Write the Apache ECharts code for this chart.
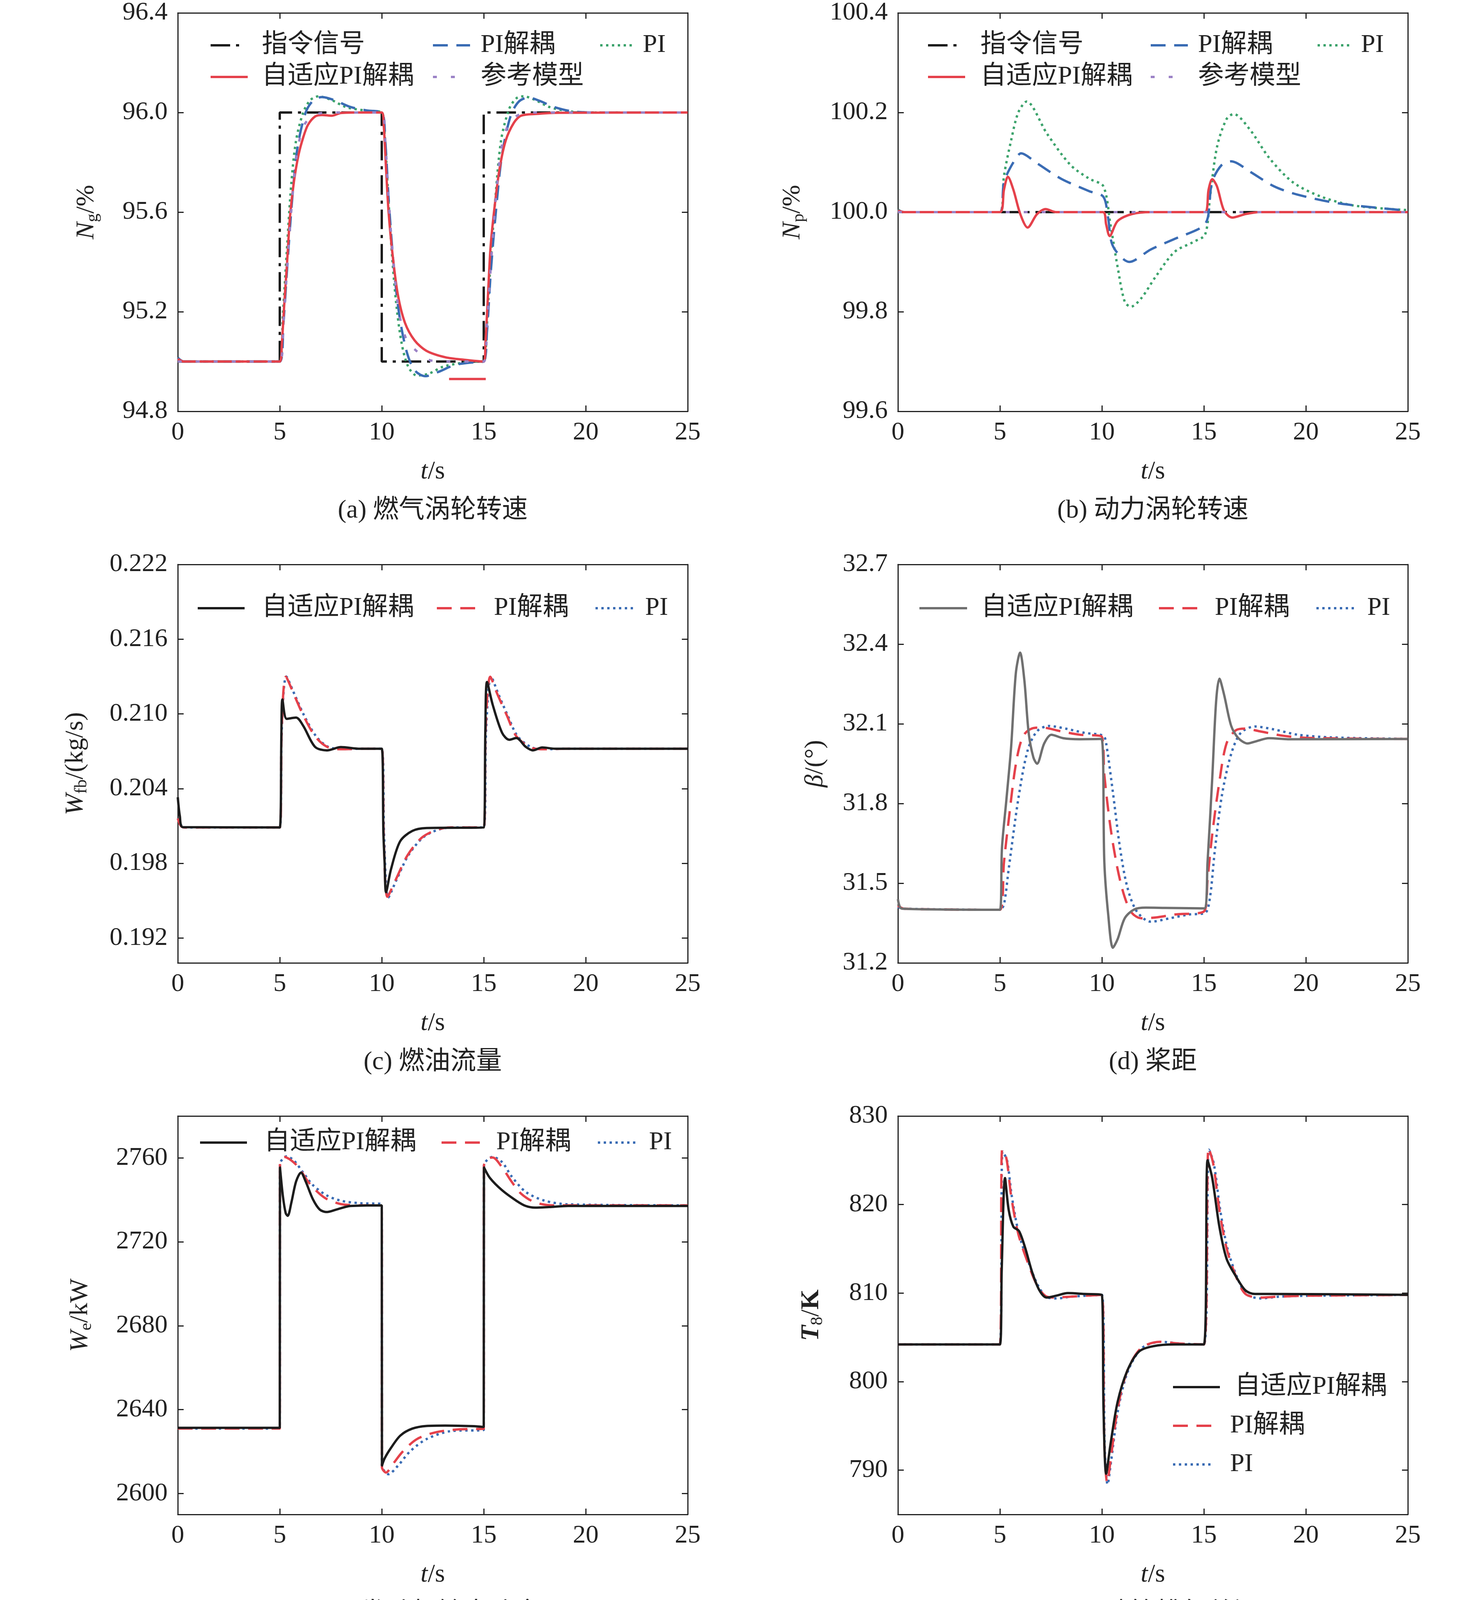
<!DOCTYPE html>
<html><head><meta charset="utf-8">
<script src="https://cdn.jsdelivr.net/npm/echarts@6/dist/echarts.min.js"></script>
<style>html,body{margin:0;padding:0;background:#fff}#c{width:3780px;height:5579px}</style>
</head><body><div id="c"></div>
<script>
// ---------- (a) gas turbine speed ----------
const a_cmd = [[0,95],[5,95],[5,96],[10,96],[10,95],[15,95],[15,96],[25,96]];
const a_adapt = [[0,95.01],[0.3,95.0],[5,95],[5.1,95.07],[5.22,95.23],[5.36,95.4],[5.5,95.58],[5.69,95.72],[5.92,95.83],[6.15,95.9],[6.38,95.95],[6.73,95.984],[7.08,95.99],[7.54,95.987],[8.0,95.998],[8.94,96.0],[10.0,96.0],[10.1,95.944],[10.21,95.776],[10.33,95.606],[10.52,95.437],[10.79,95.268],[11.14,95.155],[11.61,95.085],[12.19,95.043],[13.12,95.017],[14.04,95.007],[15.0,95.0],[15.09,95.085],[15.2,95.254],[15.34,95.465],[15.55,95.634],[15.78,95.776],[16.08,95.888],[16.48,95.959],[16.83,95.987],[17.53,95.994],[18.69,95.999],[25,96.0]];
const a_pid = [[0,95.015],[0.3,95.0],[5,95],[5.18,95.155],[5.39,95.409],[5.62,95.663],[5.87,95.86],[6.27,96.0],[6.66,96.05],[7.08,96.062],[7.66,96.05],[8.47,96.022],[9.29,96.008],[10.0,96.0],[10.17,95.888],[10.33,95.663],[10.56,95.409],[10.84,95.198],[11.21,95.043],[11.61,94.965],[12.14,94.941],[12.77,94.958],[13.58,94.986],[14.51,94.997],[15.0,95.0],[15.16,95.12],[15.34,95.353],[15.6,95.606],[15.9,95.832],[16.32,95.987],[16.71,96.043],[17.18,96.06],[17.76,96.046],[18.45,96.022],[19.38,96.004],[20.54,96.0],[25,96.0]];
const a_pi = [[0,95.015],[0.3,95.0],[5,95],[5.15,95.183],[5.34,95.437],[5.57,95.719],[5.8,95.888],[6.15,96.0],[6.5,96.05],[6.9,96.065],[7.54,96.05],[8.24,96.022],[9.17,96.008],[10.0,96.0],[10.14,95.916],[10.28,95.719],[10.47,95.465],[10.7,95.24],[10.98,95.071],[11.3,94.979],[11.72,94.944],[12.3,94.951],[13.0,94.979],[13.81,94.993],[14.5,95.0],[15.0,95.0],[15.13,95.113],[15.32,95.381],[15.55,95.634],[15.85,95.888],[16.25,96.015],[16.6,96.057],[16.95,96.065],[17.53,96.05],[18.22,96.022],[19.15,96.005],[20.3,96.0],[25,96.0]];
const a_ref = [[0,95.0],[5,95],[5.18,95.15],[5.39,95.41],[5.62,95.66],[5.87,95.85],[6.2,95.95],[6.7,95.99],[7.5,96.0],[10.0,96.0],[10.17,95.89],[10.33,95.66],[10.56,95.41],[10.84,95.2],[11.2,95.09],[11.6,95.05],[12.3,95.007],[13,95.0],[15,95.0],[15.16,95.15],[15.37,95.41],[15.6,95.66],[15.85,95.85],[16.2,95.95],[16.7,95.99],[17.5,96.0],[25,96.0]];
const a_extra = [[13.3,94.93],[15.1,94.93]];
// ---------- (b) power turbine speed ----------
const b_cmd = [[0,100],[25,100]];
const b_ref = [[0,100],[25,100]];
const b_adapt = [[0,100.003],[0.3,100.0],[5.0,100.0],[5.2,100.045],[5.39,100.071],[5.66,100.045],[6.0,99.996],[6.36,99.969],[6.82,99.996],[7.24,100.006],[7.75,100.0],[10.05,100.0],[10.21,99.975],[10.38,99.952],[10.77,99.982],[11.47,99.996],[12.4,100.0],[15.05,100.0],[15.23,100.045],[15.41,100.066],[15.64,100.052],[15.99,100.003],[16.39,99.989],[17.04,99.996],[17.73,100.0],[25,100.0]];
const b_pid = [[0,100.004],[0.3,100.0],[5.0,100.0],[5.2,100.06],[5.66,100.1],[6.04,100.118],[6.82,100.098],[8.0,100.067],[9.38,100.042],[10.07,100.031],[10.3,99.99],[10.54,99.932],[11.35,99.90],[12.4,99.925],[13.56,99.946],[14.95,99.971],[15.2,99.99],[15.4,100.06],[15.88,100.095],[16.34,100.102],[17.27,100.081],[18.43,100.052],[19.6,100.035],[21.7,100.017],[25,100.003]];
const b_pi = [[0,100.005],[0.3,100.0],[5.0,100.0],[5.2,100.073],[5.55,100.144],[5.9,100.2],[6.31,100.222],[7.3,100.158],[8.45,100.095],[9.38,100.067],[10.07,100.052],[10.42,99.975],[10.77,99.89],[11.12,99.82],[11.42,99.81],[11.93,99.827],[12.63,99.87],[13.56,99.92],[14.48,99.94],[15.06,99.955],[15.3,100.03],[15.64,100.13],[16.1,100.186],[16.46,100.197],[17.27,100.165],[18.2,100.109],[19.36,100.06],[20.75,100.031],[22.38,100.013],[25,100.004]];
// ---------- (c) fuel flow ----------
const c_adapt = [[0,0.2033],[0.1,0.2018],[0.25,0.2009],[5.0,0.20088],[5.08,0.2085],[5.13,0.21115],[5.34,0.2096],[5.8,0.2097],[6.15,0.20904],[6.73,0.20735],[7.31,0.20707],[8.0,0.20733],[8.94,0.2072],[10.0,0.2072],[10.08,0.2005],[10.14,0.19807],[10.21,0.19568],[10.45,0.1975],[10.9,0.19976],[11.5,0.2006],[12.2,0.20083],[15.0,0.20088],[15.08,0.2088],[15.16,0.21256],[15.44,0.21073],[15.9,0.20848],[16.25,0.20792],[16.6,0.20806],[17.06,0.20735],[17.41,0.20707],[17.87,0.2073],[18.5,0.2072],[25,0.2072]];
const c_pid = [[0,0.2016],[0.15,0.2010],[0.3,0.20088],[5.0,0.20088],[5.1,0.2090],[5.3,0.21298],[5.69,0.21158],[6.15,0.20989],[6.73,0.2082],[7.31,0.20736],[8.0,0.20716],[9,0.2072],[10.0,0.2072],[10.1,0.2000],[10.28,0.19531],[10.68,0.19666],[11.26,0.19863],[11.95,0.20004],[12.65,0.20066],[13.35,0.20088],[15.0,0.20088],[15.1,0.2090],[15.32,0.21298],[15.67,0.21158],[16.13,0.20989],[16.6,0.2082],[17.3,0.2073],[18.0,0.20716],[19,0.2072],[25,0.2072]];
const c_pi = [[0,0.2016],[0.15,0.2011],[0.3,0.20088],[5.0,0.20088],[5.1,0.2088],[5.32,0.2130],[5.72,0.21158],[6.2,0.20985],[6.78,0.2082],[7.36,0.20736],[8.05,0.20716],[9,0.2072],[10.0,0.2072],[10.12,0.2000],[10.32,0.19525],[10.72,0.19666],[11.3,0.19863],[12.0,0.20004],[12.7,0.20066],[13.4,0.20088],[15.0,0.20088],[15.12,0.2088],[15.36,0.2130],[15.72,0.21158],[16.18,0.20985],[16.66,0.2082],[17.36,0.2073],[18.05,0.20716],[19,0.2072],[25,0.2072]];
// ---------- (d) propeller pitch ----------
const d_adapt = [[0,31.44],[0.2,31.404],[5.0,31.40],[5.1,31.632],[5.32,31.816],[5.55,32.013],[5.78,32.29],[5.99,32.368],[6.2,32.263],[6.41,32.066],[6.64,31.974],[6.82,31.95],[7.17,32.026],[7.52,32.059],[8.1,32.046],[8.91,32.042],[9.98,32.043],[10.12,31.579],[10.31,31.382],[10.54,31.257],[10.77,31.289],[11.12,31.368],[11.58,31.401],[12.16,31.408],[13.09,31.407],[15.02,31.405],[15.18,31.579],[15.41,31.895],[15.6,32.184],[15.76,32.27],[15.99,32.21],[16.34,32.092],[16.69,32.046],[17.15,32.026],[17.5,32.033],[18.2,32.046],[19.13,32.042],[25,32.043]];
const d_pid = [[0,31.415],[0.3,31.404],[5.0,31.40],[5.2,31.579],[5.43,31.737],[5.78,31.947],[6.13,32.053],[6.59,32.083],[7.06,32.086],[7.99,32.072],[8.91,32.059],[9.98,32.053],[10.12,31.908],[10.42,31.711],[10.77,31.553],[11.12,31.447],[11.47,31.388],[11.93,31.368],[12.63,31.371],[13.56,31.382],[15.02,31.395],[15.18,31.513],[15.41,31.684],[15.76,31.882],[16.11,32.026],[16.57,32.076],[17.04,32.082],[17.73,32.072],[18.9,32.055],[20.06,32.047],[25,32.043]];
const d_pi = [[0,31.41],[0.3,31.404],[5.0,31.40],[5.2,31.421],[5.43,31.553],[5.9,31.816],[6.36,32.0],[6.82,32.072],[7.4,32.092],[8.22,32.082],[9.15,32.066],[10.07,32.055],[10.21,32.026],[10.54,31.842],[10.89,31.632],[11.24,31.487],[11.7,31.395],[12.4,31.355],[13.33,31.368],[14.26,31.382],[15.06,31.388],[15.3,31.447],[15.53,31.618],[15.88,31.829],[16.34,31.987],[16.81,32.066],[17.5,32.09],[18.43,32.079],[19.6,32.059],[21.22,32.049],[25,32.043]];
// ---------- (e) engine output power ----------
const e_adapt = [[0,2631.3],[5.0,2631.3],[5.01,2755.5],[5.15,2742],[5.29,2733.7],[5.39,2732.4],[5.57,2738.8],[5.8,2748.8],[6.04,2753],[6.27,2748.8],[6.62,2740.4],[6.96,2735.4],[7.31,2734.2],[7.78,2735.4],[8.47,2737.1],[10.0,2737.4],[10.01,2613.3],[10.14,2616.7],[10.45,2621.7],[10.91,2627.6],[11.49,2630.9],[12.19,2632.2],[13.12,2632.4],[14.51,2632.1],[15.0,2631.7],[15.01,2755.5],[15.3,2750.5],[15.9,2744.6],[16.6,2739.6],[17.06,2737.1],[17.52,2736.3],[18.2,2736.6],[19.13,2737.1],[25,2737.1]];
const e_pid = [[0,2631],[5.0,2631],[5.01,2757],[5.22,2760.5],[5.57,2758.8],[5.92,2755.5],[6.38,2748.8],[6.85,2743.8],[7.31,2740.4],[8.0,2738],[8.94,2737.4],[10.0,2737.4],[10.01,2612.5],[10.21,2610],[10.56,2614.2],[11.03,2620],[11.72,2625.9],[12.65,2629.2],[13.81,2630.6],[15.0,2630.9],[15.01,2756.3],[15.2,2759.7],[15.44,2760.2],[15.9,2755.5],[16.36,2748.8],[16.83,2743],[17.52,2738.8],[18.45,2737.4],[25,2737.4]];
const e_pi = [[0,2631],[5.0,2631],[5.01,2757],[5.34,2760.8],[5.69,2758.8],[6.15,2753],[6.62,2747.1],[7.31,2742.1],[8.0,2739.6],[8.94,2738.4],[10.0,2738],[10.01,2613.3],[10.33,2609.2],[10.8,2613.3],[11.38,2620],[12.19,2625.9],[13.35,2629.7],[15.0,2630.4],[15.01,2756.3],[15.44,2760.5],[15.9,2758],[16.36,2751.3],[17.06,2743.8],[17.99,2739.6],[19.13,2737.9],[25,2737.4]];
// ---------- (f) nozzle exhaust temperature ----------
const f_adapt = [[0,804.2],[5.0,804.2],[5.09,812.7],[5.25,823.0],[5.43,819.4],[5.66,817.5],[5.94,817.0],[6.24,815.1],[6.59,812.3],[6.94,810.3],[7.29,809.5],[7.75,809.7],[8.33,810.0],[9.15,809.9],[10.0,809.8],[10.08,796.9],[10.21,789.6],[10.42,792.9],[10.77,797.7],[11.24,801.2],[11.82,803.4],[12.51,804.0],[13.56,804.2],[15.0,804.2],[15.18,825.0],[15.41,823.0],[15.76,817.5],[16.11,813.9],[16.57,811.9],[17.04,810.3],[17.5,809.9],[18.2,809.9],[25,809.8]];
const f_pid = [[0,804.2],[5.0,804.2],[5.11,826.2],[5.32,825.2],[5.55,821.0],[5.9,816.7],[6.36,813.5],[6.82,810.9],[7.29,809.6],[7.75,809.5],[8.45,809.6],[10.0,809.8],[10.12,792.9],[10.26,788.6],[10.42,791.0],[10.77,796.9],[11.24,801.2],[11.93,803.8],[12.86,804.5],[13.79,804.3],[15.0,804.2],[15.23,826.4],[15.46,824.6],[15.76,819.4],[16.11,815.1],[16.57,811.9],[17.04,809.9],[17.73,809.5],[18.66,809.6],[20.06,809.7],[25,809.8]];
const f_pi = [[0,804.2],[5.0,804.2],[5.13,826.0],[5.35,825.0],[5.58,821.0],[5.93,816.7],[6.4,813.5],[6.86,810.9],[7.33,809.5],[7.8,809.4],[8.5,809.6],[10.0,809.8],[10.14,792.5],[10.28,788.4],[10.45,791.0],[10.8,796.9],[11.28,801.2],[11.97,803.8],[12.9,804.5],[13.83,804.3],[15.0,804.2],[15.25,826.2],[15.49,824.6],[15.8,819.4],[16.15,815.1],[16.61,811.9],[17.08,809.9],[17.8,809.4],[18.7,809.6],[20.1,809.7],[25,809.8]];
// ---------- (g) adaptive parameters, matrix 1 ----------
const g11 = [[0,0.008],[5.2,0.008],[5.7,0.004],[6.15,0.002],[7.5,0.003],[15.2,0.005],[16.6,0.002],[25,0.002]];
const g12 = [[0,0],[5.0,0],[5.18,-0.019],[5.34,-0.102],[5.5,-0.247],[5.69,-0.434],[5.87,-0.549],[6.06,-0.595],[6.27,-0.517],[6.5,-0.351],[6.66,-0.226],[6.9,-0.18],[7.2,-0.211],[7.55,-0.247],[8.0,-0.242],[8.94,-0.237],[9.98,-0.235],[10.14,-0.143],[10.28,-0.039],[10.45,0.044],[10.68,0.096],[11.03,0.122],[11.72,0.125],[15.2,0.125],[15.37,0.064],[15.55,-0.102],[15.79,-0.31],[16.02,-0.413],[16.37,-0.372],[16.83,-0.31],[17.3,-0.273],[17.76,-0.26],[18.45,-0.266],[19.6,-0.266],[24.7,-0.266]];
const g21 = [[0,0],[5.1,0],[5.57,-0.019],[6.15,-0.021],[9.87,-0.022],[14.5,-0.024],[15.55,-0.026],[16.6,-0.028],[24.7,-0.028]];
const g22 = [[0,0],[5.05,0],[5.18,-0.008],[5.34,-0.06],[5.57,-0.097],[6.04,-0.117],[6.62,-0.135],[7.55,-0.136],[10.1,-0.136],[10.33,-0.159],[10.68,-0.182],[11.26,-0.192],[15.1,-0.192],[15.32,-0.226],[15.55,-0.268],[15.79,-0.289],[16.13,-0.292],[24.7,-0.294]];
// ---------- (h) adaptive parameters, matrix 2 ----------
const h13 = [[0,0],[25,0]];
const h14 = [[0,0],[5.2,0],[5.55,-0.00006],[6.0,-0.000095],[6.82,-0.000074],[8.45,-0.000074],[15.06,-0.000078],[15.41,-0.000117],[15.88,-0.000152],[25,-0.000152]];
const h23 = [[0.2,-0.000134],[5.1,-0.000134],[5.43,-0.000247],[5.78,-0.000398],[6.13,-0.000442],[6.59,-0.000442],[7.52,-0.000433],[14.49,-0.000424],[15.18,-0.000442],[15.65,-0.000485],[16.11,-0.00052],[24.24,-0.000515]];
const h24 = [[0,0],[5.1,0],[5.25,-0.00027],[5.34,-0.00053],[5.48,-0.00092],[5.62,-0.00126],[5.78,-0.00152],[5.94,-0.00165],[6.13,-0.00161],[6.36,-0.00144],[6.59,-0.00126],[6.89,-0.00118],[7.29,-0.00124],[7.75,-0.00126],[8.91,-0.00125],[10.07,-0.00124],[10.54,-0.00119],[11.47,-0.00118],[15.06,-0.00118],[15.3,-0.00135],[15.53,-0.00178],[15.76,-0.00235],[15.99,-0.00258],[16.34,-0.00252],[16.81,-0.00243],[17.5,-0.00238],[24.7,-0.002377]];
// ---------- tick labels ----------
const xTicks = [0,5,10,15,20,25];
const c_yTicks = [0.192,0.198,0.204,0.210,0.216,0.222];
const e_yTicks = [2600,2640,2680,2720,2760];
const f_yTicks = [790,800,810,820,830];

const FONT = "'Liberation Serif','Times New Roman','Noto Sans CJK SC',serif";
const FS = 66;
const C = {red:'#E5414B', blue:'#3A6CB4', green:'#3CA36C', purple:'#9B82C6', black:'#1c1c1c', gray:'#707070'};
const DASH = [38,22], DOT = [6,9], DASHDOT = [50,15,8,15], REFDOT = [10,36];
const LW = 6;

const colLeft = [455, 2298], gw = 1305;
const rowTop = [33, 1445, 2857, 4268], gh = 1020;

const grids = [], xAxes = [], yAxes = [], series = [], legends = [], graphics = [];
const minus = s => s.replace('-', '\u2212');

function panel(p) {
  const gi = grids.length;
  const left = colLeft[p.col], top = rowTop[p.row];
  grids.push({left: left, top: top, width: gw, height: gh, containLabel: false});
  const common = {gridIndex: gi, axisLine: {onZero: false, lineStyle: {color: '#222', width: 3}}, axisTick: {inside: true, length: 15, lineStyle: {color: '#222', width: 3}}, splitLine: {show: false}};
  const lab = {color: '#222', fontSize: FS, fontFamily: FONT};
  xAxes.push(Object.assign({}, common, {type: 'value', position: 'bottom', min: 0, max: 25, interval: 5,
    axisLabel: Object.assign({margin: 22}, lab),
    name: '{i|t}/s', nameLocation: 'middle', nameGap: 122,
    nameTextStyle: Object.assign({rich: {i: {fontStyle: 'italic', fontSize: FS, fontFamily: FONT, color: '#222'}}}, lab)}));
  xAxes.push(Object.assign({}, common, {type: 'value', position: 'top', min: 0, max: 25, interval: 5, axisLabel: {show: false}}));
  const yBase = {type: 'value', min: p.ymin, max: p.ymax};
  if (p.yint) yBase.interval = p.yint;
  const yl = Object.assign({}, common, yBase, {position: 'left',
    axisLabel: Object.assign({margin: 26, formatter: p.fmt}, lab),
    name: p.yname, nameLocation: 'middle', nameGap: p.nameGap,
    nameTextStyle: Object.assign({rich: p.rich}, lab)});
  const yr = Object.assign({}, common, yBase, {position: 'right', axisLabel: {show: false}});
  if (p.ycustom) {
    yl.axisLabel.customValues = p.ycustom; yl.axisTick = Object.assign({}, common.axisTick, {customValues: p.ycustom});
    yr.axisLabel = {show: false, customValues: p.ycustom}; yr.axisTick = Object.assign({}, common.axisTick, {customValues: p.ycustom});
  }
  yAxes.push(yl); yAxes.push(yr);
  const xi = 2 * gi, yi = 2 * gi;
  p.series.forEach(s => {
    series.push({type: 'line', name: s.name, data: s.data, xAxisIndex: xi, yAxisIndex: yi,
      symbol: 'none', showSymbol: false, smooth: s.step ? false : 0.3,
      lineStyle: {color: s.color, width: s.width || LW, type: s.type || 'solid', cap: 'butt'},
      itemStyle: {color: s.color}, z: s.z || 2, animation: false});
  });
  (p.legend || []).forEach(l => {
    const iw = l.iw || 100;
    legends.push({data: [l.name], left: l.x, top: l.cy - 35, padding: 0, itemWidth: iw, itemHeight: 20,
      selectedMode: false,
      itemStyle: {opacity: 0},
      lineStyle: {width: LW},
      formatter: n => { const b = n.split('@')[0]; return b.charAt(0) === '\u0398' ? '{i|\u0398}' + b.slice(1) : b; },
      textStyle: {color: '#222', fontSize: FS, fontFamily: FONT, lineHeight: 70, padding: [0, 0, 0, Math.max(0, l.tx - l.x - iw - 5)],
        rich: {i: {fontStyle: 'italic', fontSize: FS, fontFamily: FONT, color: '#222', lineHeight: 70}}}});
  });
  const cx = left + gw / 2;
  graphics.push({type: 'text', x: cx, y: top + 1275, silent: true,
    style: {text: p.caption, fill: '#222', font: FS + 'px ' + FONT, textAlign: 'center', verticalAlign: 'middle', textVerticalAlign: 'middle',
      rich: {i: {fontStyle: 'italic', fontSize: FS, fontFamily: FONT, fill: '#222'}}}});
}

const f1 = v => v.toFixed(1);
const f3 = v => v.toFixed(3);
const f0 = v => String(Math.round(v));
const fg = v => minus(String(Math.round(v * 10) / 10));
const fh = v => minus(String(Math.round(v * 1000) / 1000));
const subRich = {i: {fontStyle: 'italic', fontSize: FS, fontFamily: FONT, color: '#222'},
  s: {fontSize: 44, fontFamily: FONT, color: '#222', padding: [30, 0, 0, 0]},
  b: {fontWeight: 'bold', fontSize: FS, fontFamily: FONT, color: '#222'},
  bi: {fontWeight: 'bold', fontStyle: 'italic', fontSize: FS, fontFamily: FONT, color: '#222'}};

// (a)
panel({col: 0, row: 0, ymin: 94.8, ymax: 96.4, yint: 0.4, fmt: f1, yname: '{i|N}{s|g}/%', nameGap: 196, rich: subRich,
  caption: '(a) 燃气涡轮转速',
  series: [
    {name: '指令信号@a', data: a_cmd, color: C.black, type: DASHDOT, step: true},
    {name: 'PI@a', data: a_pi, color: C.green, type: DOT},
    {name: 'PI解耦@a', data: a_pid, color: C.blue, type: DASH},
    {name: '自适应PI解耦@a', data: a_adapt, color: C.red},
    {name: '参考模型@a', data: a_ref, color: C.purple, type: REFDOT},
    {name: 'extra@a', data: a_extra, color: C.red, step: true}
  ],
  legend: [
    {name: '指令信号@a', x: 536, tx: 667, cy: 116, iw: 85},
    {name: '自适应PI解耦@a', x: 536, tx: 667, cy: 197, iw: 95},
    {name: 'PI解耦@a', x: 1105, tx: 1227, cy: 116, iw: 95},
    {name: '参考模型@a', x: 1105, tx: 1227, cy: 197, iw: 70},
    {name: 'PI@a', x: 1533, tx: 1642, cy: 116, iw: 85}
  ]});
// (b)
panel({col: 1, row: 0, ymin: 99.6, ymax: 100.4, yint: 0.2, fmt: f1, yname: '{i|N}{s|p}/%', nameGap: 232, rich: subRich,
  caption: '(b) 动力涡轮转速',
  series: [
    {name: '指令信号@b', data: b_cmd, color: C.black, type: DASHDOT, step: true},
    {name: 'PI@b', data: b_pi, color: C.green, type: DOT},
    {name: 'PI解耦@b', data: b_pid, color: C.blue, type: DASH},
    {name: '自适应PI解耦@b', data: b_adapt, color: C.red},
    {name: '参考模型@b', data: b_ref, color: C.purple, type: REFDOT, step: true}
  ],
  legend: [
    {name: '指令信号@b', x: 2372, tx: 2506, cy: 116, iw: 85},
    {name: '自适应PI解耦@b', x: 2372, tx: 2506, cy: 197, iw: 95},
    {name: 'PI解耦@b', x: 2942, tx: 3063, cy: 116, iw: 95},
    {name: '参考模型@b', x: 2942, tx: 3063, cy: 197, iw: 70},
    {name: 'PI@b', x: 3369, tx: 3480, cy: 116, iw: 85}
  ]});
// (c)
panel({col: 0, row: 1, ymin: 0.190, ymax: 0.222, ycustom: c_yTicks, fmt: f3, yname: '{i|W}{s|fb}/(kg/s)', nameGap: 224, rich: subRich,
  caption: '(c) 燃油流量',
  series: [
    {name: 'PI@c', data: c_pi, color: C.blue, type: DOT},
    {name: 'PI解耦@c', data: c_pid, color: C.red, type: DASH},
    {name: '自适应PI解耦@c', data: c_adapt, color: C.black}
  ],
  legend: [
    {name: '自适应PI解耦@c', x: 503, tx: 667, cy: 1557, iw: 120},
    {name: 'PI解耦@c', x: 1115, tx: 1261, cy: 1557, iw: 115},
    {name: 'PI@c', x: 1521, tx: 1648, cy: 1557, iw: 97}
  ]});
// (d)
panel({col: 1, row: 1, ymin: 31.2, ymax: 32.7, yint: 0.3, fmt: f1, yname: '{i|β}/(°)', nameGap: 178, rich: subRich,
  caption: '(d) 桨距',
  series: [
    {name: 'PI@d', data: d_pi, color: C.blue, type: DOT},
    {name: 'PI解耦@d', data: d_pid, color: C.red, type: DASH},
    {name: '自适应PI解耦@d', data: d_adapt, color: C.gray}
  ],
  legend: [
    {name: '自适应PI解耦@d', x: 2350, tx: 2508, cy: 1557, iw: 122},
    {name: 'PI解耦@d', x: 2963, tx: 3106, cy: 1557, iw: 115},
    {name: 'PI@d', x: 3366, tx: 3496, cy: 1557, iw: 97}
  ]});
// (e)
panel({col: 0, row: 2, ymin: 2590, ymax: 2780, ycustom: e_yTicks, fmt: f0, yname: '{i|W}{s|e}/kW', nameGap: 212, rich: subRich,
  caption: '(e) 发动机输出功率',
  series: [
    {name: 'PI@e', data: e_pi, color: C.blue, type: DOT},
    {name: 'PI解耦@e', data: e_pid, color: C.red, type: DASH},
    {name: '自适应PI解耦@e', data: e_adapt, color: C.black}
  ],
  legend: [
    {name: '自适应PI解耦@e', x: 509, tx: 673, cy: 2925, iw: 120},
    {name: 'PI解耦@e', x: 1127, tx: 1267, cy: 2925, iw: 115},
    {name: 'PI@e', x: 1527, tx: 1658, cy: 2925, iw: 97}
  ]});
// (f)
panel({col: 1, row: 2, ymin: 785, ymax: 830, ycustom: f_yTicks, fmt: f0, yname: '{bi|T}{s|8}/{b|K}', nameGap: 184, rich: subRich,
  caption: '(f) 尾喷管排气总温',
  series: [
    {name: 'PI@f', data: f_pi, color: C.blue, type: DOT},
    {name: 'PI解耦@f', data: f_pid, color: C.red, type: DASH},
    {name: '自适应PI解耦@f', data: f_adapt, color: C.black}
  ],
  legend: [
    {name: '自适应PI解耦@f', x: 2999, tx: 3157, cy: 3551, iw: 120},
    {name: 'PI解耦@f', x: 2999, tx: 3145, cy: 3650, iw: 112},
    {name: 'PI@f', x: 2999, tx: 3145, cy: 3749, iw: 97}
  ]});
// (g)
panel({col: 0, row: 3, ymin: -0.8, ymax: 0.4, yint: 0.2, fmt: fg, yname: '{bi|Θ}', nameGap: 186, rich: subRich,
  caption: '(g) 自适应参数{i|Θ}矩阵1',
  series: [
    {name: 'Θ(1,1)@g', data: g11, color: C.gray},
    {name: 'Θ(2,1)@g', data: g21, color: C.blue, type: DOT},
    {name: 'Θ(2,2)@g', data: g22, color: C.green, type: DASHDOT},
    {name: 'Θ(1,2)@g', data: g12, color: C.red, type: DASH}
  ],
  legend: [
    {name: 'Θ(1,1)@g', x: 1370, tx: 1521, cy: 4968, iw: 121},
    {name: 'Θ(1,2)@g', x: 1370, tx: 1521, cy: 5043, iw: 121},
    {name: 'Θ(2,1)@g', x: 1370, tx: 1521, cy: 5118, iw: 110},
    {name: 'Θ(2,2)@g', x: 1370, tx: 1521, cy: 5193, iw: 110}
  ]});
// (h)
panel({col: 1, row: 3, ymin: -0.004, ymax: 0.001, yint: 0.001, fmt: fh, yname: '{bi|Θ}', nameGap: 254, rich: subRich,
  caption: '(h) 自适应参数{i|Θ}矩阵2',
  series: [
    {name: 'Θ(1,3)@h', data: h13, color: C.gray},
    {name: 'Θ(2,3)@h', data: h23, color: C.blue, type: DOT},
    {name: 'Θ(2,4)@h', data: h24, color: C.green, type: DASHDOT},
    {name: 'Θ(1,4)@h', data: h14, color: C.red, type: DASH}
  ],
  legend: [
    {name: 'Θ(1,3)@h', x: 2378, tx: 2532, cy: 4968, iw: 122},
    {name: 'Θ(1,4)@h', x: 2378, tx: 2532, cy: 5043, iw: 122},
    {name: 'Θ(2,3)@h', x: 2378, tx: 2532, cy: 5118, iw: 110},
    {name: 'Θ(2,4)@h', x: 2378, tx: 2532, cy: 5193, iw: 110}
  ]});

const chart = echarts.init(document.getElementById('c'), null, {renderer: 'canvas'});
chart.setOption({backgroundColor: '#fff', animation: false, grid: grids, xAxis: xAxes, yAxis: yAxes, series: series, legend: legends, graphic: graphics});
</script></body></html>
